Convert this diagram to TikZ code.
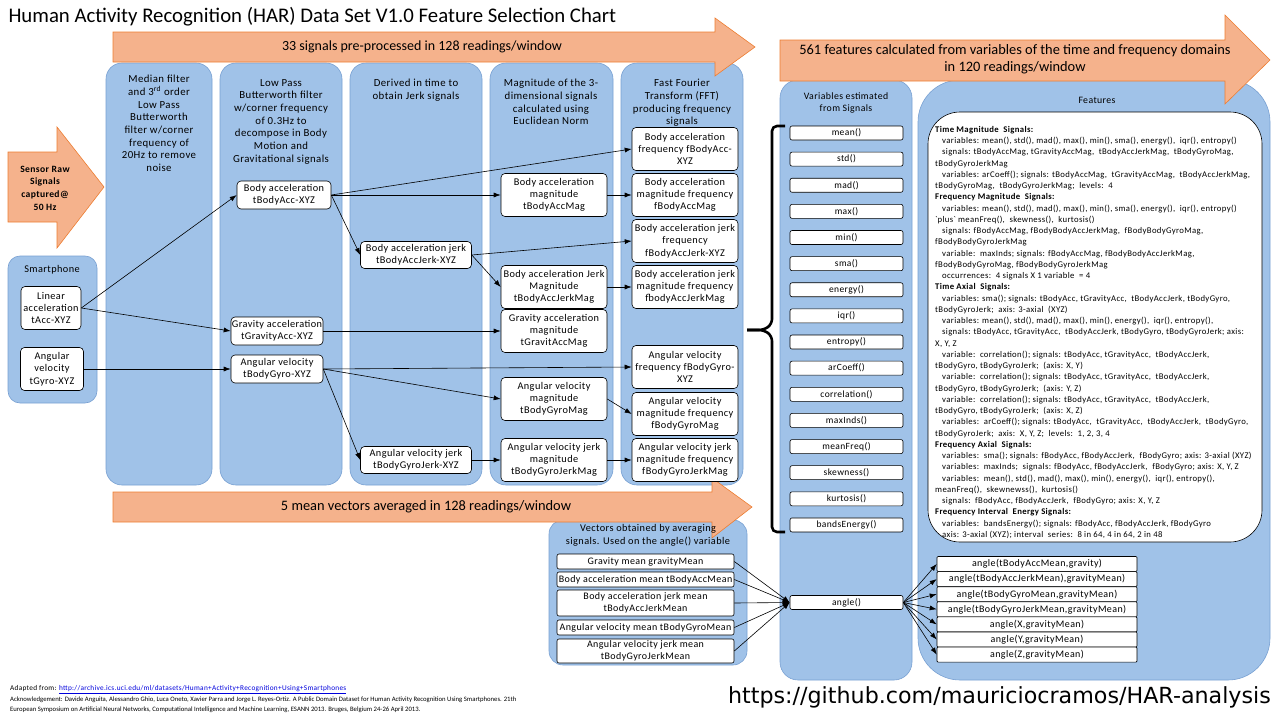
\documentclass[tikz,border=0pt]{standalone}
\usepackage{fontspec}
\setmainfont{Carlito}
\newfontfamily\diag{Carlito}[LetterSpace=4]
\newfontfamily\repofont{DejaVu Sans}
\usepackage{tikz}
\usetikzlibrary{arrows.meta,positioning}

\definecolor{colblue}{RGB}{160,194,232}
\definecolor{coledge}{RGB}{120,160,210}
\definecolor{arrowfill}{RGB}{245,178,140}
\definecolor{arrowedge}{RGB}{237,125,49}
\definecolor{linkblue}{RGB}{0,0,220}

\newcommand{\ind}{\hspace*{7pt}}

\tikzset{
  col/.style={fill=colblue, draw=coledge, line width=0.6pt, rounded corners=16pt},
  bigarrow/.style={fill=arrowfill, draw=arrowedge, line width=0.6pt},
  sig/.style={draw, fill=white, rounded corners=4pt, align=center, inner sep=0pt,
    line width=0.6pt, font=\diag\fontsize{10.3}{12.3}\selectfont},
  sigTwo/.style={sig, minimum width=92pt, minimum height=28pt},
  sigJerk/.style={sig, minimum width=111pt, minimum height=27pt},
  sigMag/.style={sig, minimum width=106pt, minimum height=43pt},
  sigVec/.style={sig, rounded corners=2pt, minimum width=177pt, minimum height=15pt,
    font=\diag\fontsize{10}{11.5}\selectfont},
  var/.style={draw, fill=white, rounded corners=2pt, inner sep=0pt, line width=0.6pt,
    minimum width=113pt, minimum height=14pt, font=\diag\fontsize{9.5}{10}\selectfont},
  colhead/.style={align=center, anchor=north, inner sep=0pt, font=\diag\fontsize{10.8}{12.7}\selectfont},
  flow/.style={-{Latex[length=7pt,width=5pt]}, line width=0.6pt},
}

\begin{document}
\begin{tikzpicture}[x=1pt, y=-1pt]
\useasboundingbox (0,0) rectangle (1280,720);

\node[anchor=west, font=\fontsize{20.8}{23}\selectfont] (title) at (5,17)
  {Human Activity Recognition (HAR) Data Set V1.0 Feature Selection Chart};

% blue containers
\draw[col] (106,63) rectangle (212,485);
\draw[col] (220,63) rectangle (342,485);
\draw[col] (350,63) rectangle (482,485);
\draw[col] (490,63) rectangle (613,485);
\draw[col] (621,63) rectangle (743,485);
\draw[col, rounded corners=12pt] (8,256) rectangle (97,403);
\draw[col, rounded corners=18pt] (780,80) rectangle (912,680);
\draw[col, rounded corners=42pt] (918,80) rectangle (1270,680);
\draw[col, rounded corners=14pt] (549,520) rectangle (747,665);

% orange arrows
\draw[bigarrow] (8,152) -- (57,152) -- (57,127) -- (104,187) -- (57,248) -- (57,222) -- (8,222) -- cycle;
\draw[bigarrow] (113,32) -- (715,32) -- (715,18) -- (755,47) -- (715,76) -- (715,62) -- (113,62) -- cycle;
\draw[bigarrow] (113,492) -- (712,492) -- (712,478) -- (752,507) -- (712,538) -- (712,522) -- (113,522) -- cycle;
\draw[bigarrow] (780,40) -- (1225,40) -- (1225,15) -- (1270,60) -- (1225,104) -- (1225,81) -- (780,81) -- cycle;

\node[align=center, font=\diag\bfseries\fontsize{9.6}{12.7}\selectfont] (raw) at (45,188)
  {Sensor Raw\\Signals\\captured@\\50 Hz};
\node[font=\fontsize{14}{16}\selectfont] (pre) at (422,47) {33 signals pre-processed in 128 readings/window};
\node[font=\fontsize{14.4}{16}\selectfont] (avg) at (426,507) {5 mean vectors averaged in 128 readings/window};
\node[align=center, font=\fontsize{14.4}{17}\selectfont] (feat) at (1015,59)
  {561 features calculated from variables of the time and frequency domains\\in 120 readings/window};

% column headers
\node[colhead] (hMedian) at (159,75) {Median filter\\and 3\textsuperscript{rd} order\\Low Pass\\Butterworth\\filter w/corner\\frequency of\\20Hz to remove\\noise};
\node[colhead] (hLow) at (281,79) {Low Pass\\Butterworth filter\\w/corner frequency\\of 0.3Hz to\\decompose in Body\\Motion and\\Gravitational signals};
\node[colhead] (hJerk) at (416,79) {Derived in time to\\obtain Jerk signals};
\node[colhead] (hMag) at (551,79) {Magnitude of the 3-\\dimensional signals\\calculated using\\Euclidean Norm};
\node[colhead] (hFFT) at (682,79) {Fast Fourier\\Transform (FFT)\\producing frequency\\signals};
\node[colhead, font=\diag\fontsize{10.3}{12}\selectfont] (hPhone) at (52,265) {Smartphone};
\node[colhead, font=\diag\fontsize{9.8}{12.8}\selectfont] (hVar) at (846,92) {Variables estimated\\from Signals};
\node[colhead, font=\diag\fontsize{9.8}{12}\selectfont] (hFeat) at (1097,97) {Features};
\node[colhead, font=\diag\fontsize{10.3}{12.8}\selectfont] (hVec) at (648,524) {Vectors obtained by averaging\\signals. Used on the angle() variable};

% signals
\node[sig, minimum width=60pt, minimum height=43pt] (tAcc) at (51,308) {Linear\\acceleration\\tAcc-XYZ};
\node[sig, minimum width=63pt, minimum height=43pt] (tGyro) at (52,369) {Angular\\velocity\\tGyro-XYZ};

\node[sigTwo, minimum width=94pt] (tBodyAcc) at (284,195) {Body acceleration\\tBodyAcc-XYZ};
\node[sigTwo] (tGravityAcc) at (277,331) {Gravity acceleration\\tGravityAcc-XYZ};
\node[sigTwo] (tBodyGyro) at (277,369) {Angular velocity\\tBodyGyro-XYZ};

\node[sigJerk] (tBodyAccJerk) at (416,255) {Body acceleration jerk\\tBodyAccJerk-XYZ};
\node[sigJerk] (tBodyGyroJerk) at (416,460) {Angular velocity jerk\\tBodyGyroJerk-XYZ};

\node[sigMag] (tBodyAccMag) at (554,195) {Body acceleration\\magnitude\\tBodyAccMag};
\node[sigMag] (tBodyAccJerkMag) at (554,287) {Body acceleration Jerk\\Magnitude\\tBodyAccJerkMag};
\node[sigMag] (tGravityAccMag) at (554,331) {Gravity acceleration\\magnitude\\tGravitAccMag};
\node[sigMag] (tBodyGyroMag) at (554,399) {Angular velocity\\magnitude\\tBodyGyroMag};
\node[sigMag] (tBodyGyroJerkMag) at (554,460) {Angular velocity jerk\\magnitude\\tBodyGyroJerkMag};

\node[sigMag] (fBodyAcc) at (685,149) {Body acceleration\\frequency fBodyAcc-\\XYZ};
\node[sigMag] (fBodyAccMag) at (685,195) {Body acceleration\\magnitude frequency\\fBodyAccMag};
\node[sigMag] (fBodyAccJerk) at (685,241) {Body acceleration jerk\\frequency\\fBodyAccJerk-XYZ};
\node[sigMag] (fBodyAccJerkMag) at (685,287) {Body acceleration jerk\\magnitude frequency\\fbodyAccJerkMag};
\node[sigMag] (fBodyGyro) at (685,367) {Angular velocity\\frequency fBodyGyro-\\XYZ};
\node[sigMag] (fBodyGyroMag) at (685,414) {Angular velocity\\magnitude frequency\\fBodyGyroMag};
\node[sigMag] (fBodyGyroJerkMag) at (685,460) {Angular velocity jerk\\magnitude frequency\\fBodyGyroJerkMag};

\draw[flow] (tAcc.east) -- (tBodyAcc.west);
\draw[flow] (tAcc.east) -- (tGravityAcc.west);
\draw[flow] (tGyro.east) -- (tBodyGyro.west);
\draw[flow] (tBodyAcc.east) -- (fBodyAcc.west);
\draw[flow] (tBodyAcc.east) -- (tBodyAccMag.west);
\draw[flow] (tBodyAcc.east) -- (tBodyAccJerk.west);
\draw[flow] (tBodyAccJerk.east) -- (fBodyAccJerk.west);
\draw[flow] (tBodyAccJerk.east) -- (tBodyAccJerkMag.west);
\draw[flow] (tBodyAccMag.east) -- (fBodyAccMag.west);
\draw[flow] (tBodyAccJerkMag.east) -- (fBodyAccJerkMag.west);
\draw[flow] (tGravityAcc.east) -- (tGravityAccMag.west);
\draw[flow] (tBodyGyro.east) -- (fBodyGyro.west);
\draw[flow] (tBodyGyro.east) -- (tBodyGyroMag.west);
\draw[flow] (tBodyGyro.east) -- (tBodyGyroJerk.west);
\draw[flow] (tBodyGyroMag.east) -- (fBodyGyroMag.west);
\draw[flow] (tBodyGyroJerk.east) -- (tBodyGyroJerkMag.west);
\draw[flow] (tBodyGyroJerkMag.east) -- (fBodyGyroJerkMag.west);

% variables
\foreach \v [count=\i from 0] in {mean(), std(), mad(), max(), min(), sma(), energy(), iqr(),
    entropy(), arCoeff(), correlation(), maxInds(), meanFreq(), skewness(), kurtosis(), bandsEnergy()}
  \node[var] (v\i) at (846.5, {133+26.13*\i}) {\v};
\node[var] (angle) at (846.5,602.5) {angle()};

\draw[line width=2.6pt, rounded corners=5pt] (785,126) -- (772,126) -- (772,324) -- (764,330) -- (747,330);
\draw[line width=2.6pt, rounded corners=5pt] (747,330) -- (764,330) -- (772,336) -- (772,532) -- (785,532);

% features
\draw[fill=white, line width=0.6pt, rounded corners=32pt] (928,112) rectangle (1262,542);
\node[anchor=north west, align=left, inner sep=0pt, font=\diag\fontsize{8.7}{11.25}\selectfont] (featText) at (935,126) {%
\textbf{Time Magnitude\ \ Signals:}\\
\ind variables: mean(), std(), mad(), max(), min(), sma(), energy(),\ \ iqr(), entropy()\\
\ind signals: tBodyAccMag, tGravityAccMag,\ \ tBodyAccJerkMag,\ \ tBodyGyroMag,\\
tBodyGyroJerkMag\\
\ind variables: arCoeff(); signals: tBodyAccMag,\ \ tGravityAccMag,\ \ tBodyAccJerkMag,\\
tBodyGyroMag,\ \ tBodyGyroJerkMag;\ \ levels:\ \ 4\\
\textbf{Frequency Magnitude\ \ Signals:}\\
\ind variables: mean(), std(), mad(), max(), min(), sma(), energy(),\ \ iqr(), entropy()\\
\textasciigrave plus\textasciigrave\ meanFreq(),\ \ skewness(),\ \ kurtosis()\\
\ind signals: fBodyAccMag, fBodyBodyAccJerkMag,\ \ fBodyBodyGyroMag,\\
fBodyBodyGyroJerkMag\\
\ind variable:\ \ maxInds; signals: fBodyAccMag, fBodyBodyAccJerkMag,\\
fBodyBodyGyroMag, fBodyBodyGyroJerkMag\\
\ind occurrences:\ \ 4 signals X 1 variable\ \ = 4\\
\textbf{Time Axial\ \ Signals:}\\
\ind variables: sma(); signals: tBodyAcc, tGravityAcc,\ \ tBodyAccJerk, tBodyGyro,\\
tBodyGyroJerk;\ \ axis: 3-axial\ \ (XYZ)\\
\ind variables: mean(), std(), mad(), max(), min(), energy(),\ \ iqr(), entropy(),\\
\ind signals: tBodyAcc, tGravityAcc,\ \ tBodyAccJerk, tBodyGyro, tBodyGyroJerk; axis:\\
X, Y, Z\\
\ind variable:\ \ correlation(); signals: tBodyAcc, tGravityAcc,\ \ tBodyAccJerk,\\
tBodyGyro, tBodyGyroJerk;\ \ (axis: X, Y)\\
\ind variable:\ \ correlation(); signals: tBodyAcc, tGravityAcc,\ \ tBodyAccJerk,\\
tBodyGyro, tBodyGyroJerk;\ \ (axis: Y, Z)\\
\ind variable:\ \ correlation(); signals: tBodyAcc, tGravityAcc,\ \ tBodyAccJerk,\\
tBodyGyro, tBodyGyroJerk;\ \ (axis: X, Z)\\
\ind variables:\ \ arCoeff(); signals: tBodyAcc,\ \ tGravityAcc,\ \ tBodyAccJerk,\ \ tBodyGyro,\\
tBodyGyroJerk;\ \ axis:\ \ X, Y, Z;\ \ levels:\ \ 1, 2, 3, 4\\
\textbf{Frequency Axial\ \ Signals:}\\
\ind variables:\ \ sma(); signals: fBodyAcc, fBodyAccJerk,\ \ fBodyGyro; axis: 3-axial (XYZ)\\
\ind variables:\ \ maxInds;\ \ signals: fBodyAcc, fBodyAccJerk,\ \ fBodyGyro; axis: X, Y, Z\\
\ind variables:\ \ mean(), std(), mad(), max(), min(), energy(),\ \ iqr(), entropy(),\\
meanFreq(),\ \ skewnewss(),\ \ kurtosis()\\
\ind signals:\ \ fBodyAcc, fBodyAccJerk,\ \ fBodyGyro; axis: X, Y, Z\\
\textbf{Frequency Interval\ \ Energy Signals:}\\
\ind variables:\ \ bandsEnergy(); signals: fBodyAcc, fBodyAccJerk, fBodyGyro\\
\ind axis: 3-axial (XYZ); interval\ \ series:\ \ 8 in 64, 4 in 64, 2 in 48};

% mean vectors
\node[sigVec] (gravityMean) at (645.5,561.5) {Gravity mean gravityMean};
\node[sigVec] (tBodyAccMean) at (645.5,579.5) {Body acceleration mean tBodyAccMean};
\node[sigVec, minimum height=26pt] (tBodyAccJerkMean) at (645.5,603) {Body acceleration jerk mean\\tBodyAccJerkMean};
\node[sigVec] (tBodyGyroMean) at (645.5,627.5) {Angular velocity mean tBodyGyroMean};
\node[sigVec, minimum height=24pt] (tBodyGyroJerkMean) at (645.5,651) {Angular velocity jerk mean\\tBodyGyroJerkMean};

\foreach \n in {gravityMean, tBodyAccMean, tBodyAccJerkMean, tBodyGyroMean, tBodyGyroJerkMean}
  \draw[flow] (\n.east) -- (angle.west);

\foreach \a [count=\i] in {angle(tBodyAccMean{,}gravity), angle(tBodyAccJerkMean){,}gravityMean),
    angle(tBodyGyroMean{,}gravityMean), angle(tBodyGyroJerkMean{,}gravityMean),
    angle(X{,}gravityMean), angle(Y{,}gravityMean), angle(Z{,}gravityMean)} {
  \node[var, minimum width=200pt, minimum height=15pt, rounded corners=1pt,
    font=\diag\fontsize{10}{11}\selectfont] (a\i) at (1037, {564+15.1*(\i-1)}) {\a};
  \draw[flow] (angle.east) -- (a\i.west);
}

% footer
\node[anchor=west, inner sep=0pt, font=\diag\fontsize{7.3}{9}\selectfont] (adapted) at (10,690)
  {Adapted from: \textcolor{linkblue}{\underline{http://archive.ics.uci.edu/ml/datasets/Human+Activity+Recognition+Using+Smartphones}}};
\node[anchor=north west, align=left, inner sep=0pt, font=\fontsize{6.7}{10}\selectfont] (ack) at (10,697)
  {Acknowledgement: Davide Anguita, Alessandro Ghio, Luca Oneto, Xavier Parra and Jorge L. Reyes-Ortiz. A Public Domain Dataset for Human Activity Recognition Using Smartphones. 21th\\
  European Symposium on Artificial Neural Networks, Computational Intelligence and Machine Learning, ESANN 2013. Bruges, Belgium 24-26 April 2013.};
\node[anchor=east, inner sep=0pt, font=\repofont\fontsize{22.2}{25}\selectfont] (repo) at (1271,697)
  {https://github.com/mauriciocramos/HAR-analysis};

\end{tikzpicture}
\end{document}
